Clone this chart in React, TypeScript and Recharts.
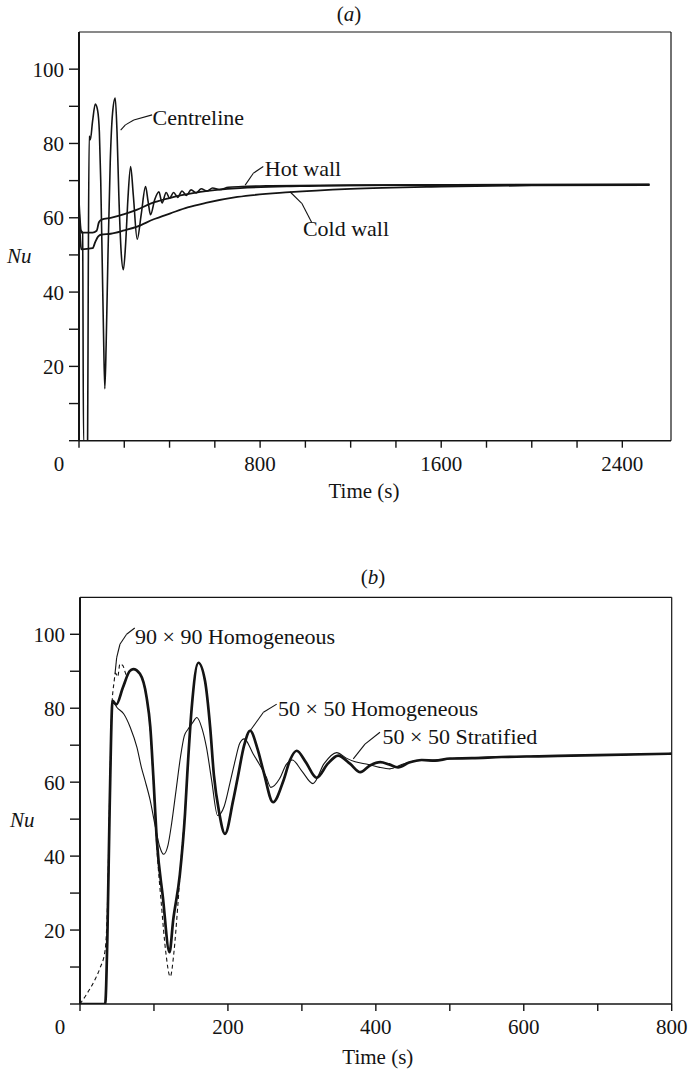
import React from 'react';
import { LineChart, Line, XAxis, YAxis, ReferenceLine, ReferenceDot } from 'recharts';

const FONT = '"Liberation Serif", "Times New Roman", Times, serif';
const INK = '#141414';

// ---------- Panel (a): Nu vs time, long run ----------
const A_XMAX = 2615;
const A_XTICKS = [0, 200, 400, 600, 800, 1000, 1200, 1400, 1600, 1800, 2000, 2200, 2400];
const A_XLABEL_EVERY = 800;
const Y_TICKS = [0, 10, 20, 30, 40, 50, 60, 70, 80, 90, 100];

const centrelineA = [
  [0, 57], [16, 56], [20, 0], [38, 0], [41, 45], [45, 82], [50, 81], [60, 86], [72, 90.6], [82, 89],
  [90, 83], [96, 70], [102, 50], [108, 30], [114, 14], [120, 26], [128, 50], [138, 75], [148, 88],
  [160, 92.2], [168, 83], [176, 66], [186, 51], [196, 46], [206, 53], [216, 65], [228, 73.8],
  [240, 66], [257, 54.2], [275, 61], [294, 68.4], [305, 64.5], [316, 60.8], [335, 65], [353, 67],
  [367, 64], [385, 66.8], [400, 65.3], [418, 66.8], [436, 65.5], [455, 67.2], [475, 66],
  [495, 67.5], [518, 66.7], [540, 67.8], [565, 67.2], [590, 68], [620, 67.6], [660, 68.2],
  [720, 68.4], [850, 68.6], [1200, 68.8], [2520, 69],
];
const hotWallA = [
  [0, 64], [6, 58], [10, 56], [60, 56], [78, 56.5], [88, 58.8], [100, 59.5], [140, 60], [200, 61],
  [257, 62.2], [316, 63.8], [400, 65.3], [448, 66], [536, 67], [712, 68], [976, 68.5],
  [1400, 68.8], [2000, 68.9], [2520, 68.9],
];
const coldWallA = [
  [0, 62], [6, 54], [10, 51.5], [60, 51.8], [72, 53.5], [85, 55], [100, 55.5], [140, 55.7],
  [200, 56.6], [257, 57.6], [330, 59.6], [404, 61.2], [480, 62.8], [560, 64], [700, 65.6],
  [931, 66.9], [1200, 67.8], [1600, 68.4], [2000, 68.7], [2520, 68.8],
];

// annotation anchors (data units) for panel (a)
const centrelineLeaderA = [[323, 87.7], [242, 86.3], [205, 85], [184, 83.6]];
const hotLeaderA = [[814, 73.8], [770, 72], [734, 68.8]];
const coldLeaderA = [[1028, 58.7], [984, 63.9], [932, 67]];

// ---------- Panel (b): Nu vs time, early transient ----------
const B_XMAX = 800;
const B_XTICKS = [0, 100, 200, 300, 400, 500, 600, 700, 800];
const B_XLABEL_EVERY = 200;

const homog90 = [
  [0, 0], [10, 3], [20, 6.5], [27, 9.7], [34, 14.6], [37, 26], [40, 55], [43, 80], [46, 87],
  [48, 89.5], [51, 88.5], [54, 92], [58, 91.5], [63, 89], [68, 90.3], [72, 90.6], [81, 89.3],
  [90, 83], [95, 74], [99, 61], [104, 42], [110, 27], [116, 14], [122, 7.4], [127, 14],
  [132, 26], [137, 40], [142, 52], [145, 62], [151, 80], [160, 92.3], [169, 87.4], [176, 74.8],
  [181, 62], [188, 52], [196, 46], [207, 55], [213, 61], [222, 70], [230, 73.9], [240, 69],
  [248, 63], [261, 54.6], [275, 60.4], [284, 66], [293, 68.5], [305, 65.5], [320, 61.2],
  [335, 65], [349, 67.2], [365, 65], [379, 62.7], [392, 64.5], [406, 65.4], [418, 64.8],
  [430, 64], [445, 65.3], [462, 66], [480, 65.8], [500, 66.4], [530, 66.5], [570, 66.8],
  [620, 67], [700, 67.3], [800, 67.7],
];
const homog50 = [
  [0, 0], [34, 0], [37, 18], [40, 52], [44, 82], [49, 81], [58, 85.6], [67, 90], [72, 90.6],
  [81, 89.3], [90, 83], [95, 75], [99, 62], [104, 44], [112, 29], [121, 14], [126, 22.7],
  [135, 35], [142, 51.5], [145, 62], [151, 80], [160, 92.3], [169, 87.4], [176, 74.8],
  [181, 62], [188, 52], [196, 46], [207, 55], [213, 61], [222, 70], [230, 73.9], [240, 69],
  [248, 63], [261, 54.6], [275, 60.4], [284, 66], [293, 68.5], [305, 65.5], [320, 61.2],
  [335, 65], [349, 67.2], [365, 65], [379, 62.7], [392, 64.5], [406, 65.4], [418, 64.8],
  [430, 64], [445, 65.3], [462, 66], [480, 65.8], [500, 66.4], [530, 66.5], [570, 66.8],
  [620, 67], [700, 67.3], [800, 67.7],
];
const strat50 = [
  [0, 0], [34, 0], [37, 18], [40, 52], [44, 82], [50, 80.2], [59, 78.5], [68, 74.8], [77, 69.4],
  [83, 64], [88, 60.4], [95, 55], [101, 48.8], [108, 42.4], [113, 40.5], [119, 43], [124, 49],
  [130, 58], [136, 67], [141, 72.5], [146, 74.3], [152, 76], [158, 77.5], [165, 74.5],
  [171, 69.4], [178, 60.5], [186, 51], [195, 53.5], [203, 60], [210, 66], [216, 70.5],
  [222, 71.7], [234, 67.7], [252, 61.3], [258, 58.6], [270, 61], [279, 64.8], [287, 66],
  [300, 63], [315, 59.6], [330, 65], [347, 68], [360, 66.5], [372, 65.5], [390, 64.8],
  [405, 64], [419, 63.6], [435, 64.8], [455, 65.8], [480, 66], [520, 66.5], [600, 67],
  [700, 67.3], [800, 67.7],
];

const homog90Leader = [[74, 101.7], [63, 100], [54, 97.3], [49.6, 93.7], [47.3, 89.3]];
const homog50Leader = [[266, 81.1], [248, 78.9], [230, 73.9]];
const strat50Leader = [[405.6, 73.5], [385.3, 70.3], [369.5, 66.3]];

const toPts = (arr: number[][]) => arr.map(([t, v]) => ({ t, v }));

function leaderSegments(points: number[][], key: string) {
  const out: any[] = [];
  for (let i = 0; i < points.length - 1; i++) {
    const [x1, y1] = points[i];
    const [x2, y2] = points[i + 1];
    out.push(
      <ReferenceLine
        key={key + i}
        segment={[{ x: x1, y: y1 }, { x: x2, y: y2 }]}
        stroke={INK}
        strokeWidth={1.1}
      />
    );
  }
  return out;
}

function note(text: string, t: number, v: number, key: string) {
  return (
    <ReferenceDot
      key={key}
      x={t}
      y={v}
      r={0}
      fill="none"
      stroke="none"
      label={{ value: text, position: 'right', offset: 0, fill: INK, fontSize: 22, fontFamily: FONT }}
    />
  );
}

function makeXTick(every: number) {
  return (props: any) => {
    const { x, y, payload } = props;
    const v = payload.value;
    if (v % every !== 0) return <g />;
    return (
      <text x={v === 0 ? x - 20 : x} y={y} dy="0.71em" textAnchor="middle" fill={INK} fontSize={21} fontFamily={FONT}>
        {v}
      </text>
    );
  };
}

const yFormatter = (v: number) => (v > 0 && v % 20 === 0 ? String(v) : '');

function nuLabel(dx: number) {
  return (p: any) => {
    const vb = p.viewBox || { x: 0, y: 0, width: 0, height: 0 };
    return (
      <text x={vb.x + dx} y={vb.y + vb.height * 0.547} dominantBaseline="central" fontStyle="italic" fill={INK} fontSize={21} fontFamily={FONT}>
        Nu
      </text>
    );
  };
}

function timeLabel(dx: number, dy: number) {
  return (p: any) => {
    const vb = p.viewBox || { x: 0, y: 0, width: 0, height: 0 };
    return (
      <text x={vb.x + vb.width / 2 + dx} y={vb.y + dy} dominantBaseline="central" textAnchor="middle" fill={INK} fontSize={21} fontFamily={FONT}>
        Time (s)
      </text>
    );
  };
}

function PanelA() {
  return (
    <LineChart width={690} height={510} margin={{ top: 32, right: 19, bottom: 9.3, left: 0 }}>
      <XAxis
        dataKey="t"
        type="number"
        domain={[0, A_XMAX]}
        ticks={A_XTICKS}
        interval={0}
        height={60}
        tickSize={7}
        tickMargin={8}
        axisLine={{ stroke: INK, strokeWidth: 1.6 }}
        tickLine={{ stroke: INK, strokeWidth: 1.4 }}
        tick={makeXTick(A_XLABEL_EVERY)}
        label={timeLabel(-11, 50.3)}
        allowDataOverflow
      />
      <YAxis
        type="number"
        domain={[0, 110]}
        ticks={Y_TICKS}
        interval={0}
        width={79}
        tickSize={10}
        tickMargin={5}
        axisLine={{ stroke: INK, strokeWidth: 2 }}
        tickLine={{ stroke: INK, strokeWidth: 1.4 }}
        tick={{ fill: INK, fontSize: 21, fontFamily: FONT }}
        tickFormatter={yFormatter}
        label={nuLabel(7)}
        allowDataOverflow
      />
      <ReferenceLine y={110} stroke={INK} strokeWidth={1.2} />
      <ReferenceLine x={A_XMAX} stroke={INK} strokeWidth={1.2} />
      <Line data={toPts(coldWallA)} dataKey="v" type="monotone" stroke={INK} strokeWidth={1.8} dot={false} activeDot={false} isAnimationActive={false} />
      <Line data={toPts(hotWallA)} dataKey="v" type="monotone" stroke={INK} strokeWidth={1.8} dot={false} activeDot={false} isAnimationActive={false} />
      <Line data={toPts(centrelineA)} dataKey="v" type="monotone" stroke={INK} strokeWidth={1.6} dot={false} activeDot={false} isAnimationActive={false} />
      {leaderSegments(centrelineLeaderA, 'cl')}
      {leaderSegments(hotLeaderA, 'hl')}
      {leaderSegments(coldLeaderA, 'cw')}
      {note('Centreline', 324.5, 87.1, 'n1')}
      {note('Hot wall', 821, 73.4, 'n2')}
      {note('Cold wall', 989, 57.3, 'n3')}
    </LineChart>
  );
}

function PanelB() {
  return (
    <LineChart width={690} height={531} margin={{ top: 57.3, right: 18.3, bottom: 7, left: 0 }}>
      <XAxis
        dataKey="t"
        type="number"
        domain={[0, B_XMAX]}
        ticks={B_XTICKS}
        interval={0}
        height={60}
        tickSize={7}
        tickMargin={8}
        axisLine={{ stroke: INK, strokeWidth: 1.6 }}
        tickLine={{ stroke: INK, strokeWidth: 1.4 }}
        tick={makeXTick(B_XLABEL_EVERY)}
        label={timeLabel(2, 53)}
        allowDataOverflow
      />
      <YAxis
        type="number"
        domain={[0, 110]}
        ticks={Y_TICKS}
        interval={0}
        width={80}
        tickSize={10}
        tickMargin={5}
        axisLine={{ stroke: INK, strokeWidth: 2 }}
        tickLine={{ stroke: INK, strokeWidth: 1.4 }}
        tick={{ fill: INK, fontSize: 21, fontFamily: FONT }}
        tickFormatter={yFormatter}
        label={nuLabel(10)}
        allowDataOverflow
      />
      <ReferenceLine y={110} stroke={INK} strokeWidth={1.2} />
      <ReferenceLine x={B_XMAX} stroke={INK} strokeWidth={1.2} />
      <Line data={toPts(homog90)} dataKey="v" type="monotone" stroke={INK} strokeWidth={1.1} strokeDasharray="4 3" dot={false} activeDot={false} isAnimationActive={false} />
      <Line data={toPts(strat50)} dataKey="v" type="monotone" stroke={INK} strokeWidth={1.1} dot={false} activeDot={false} isAnimationActive={false} />
      <Line data={toPts(homog50)} dataKey="v" type="monotone" stroke={INK} strokeWidth={2.7} dot={false} activeDot={false} isAnimationActive={false} />
      {leaderSegments(homog90Leader, 'l90')}
      {leaderSegments(homog50Leader, 'l50')}
      {leaderSegments(strat50Leader, 'ls')}
      {note('90 × 90 Homogeneous', 74.4, 99.5, 'm1')}
      {note('50 × 50 Homogeneous', 267.7, 80.1, 'm2')}
      {note('50 × 50 Stratified', 409, 72.3, 'm3')}
    </LineChart>
  );
}

const titleStyle: React.CSSProperties = {
  position: 'absolute',
  width: 100,
  textAlign: 'center',
  fontFamily: FONT,
  fontSize: 21,
  lineHeight: '21px',
  color: INK,
};

export default function App() {
  return (
    <div style={{ position: 'absolute', left: 0, top: 0, width: 690, height: 1071, background: '#fff', overflow: 'hidden' }}>
      <div style={{ ...titleStyle, left: 299, top: 4.4 }}>
        (<i>a</i>)
      </div>
      <div style={{ position: 'absolute', left: 0, top: 0 }}>
        <PanelA />
      </div>
      <div style={{ ...titleStyle, left: 323, top: 567.4 }}>
        (<i>b</i>)
      </div>
      <div style={{ position: 'absolute', left: 0, top: 540 }}>
        <PanelB />
      </div>
    </div>
  );
}
